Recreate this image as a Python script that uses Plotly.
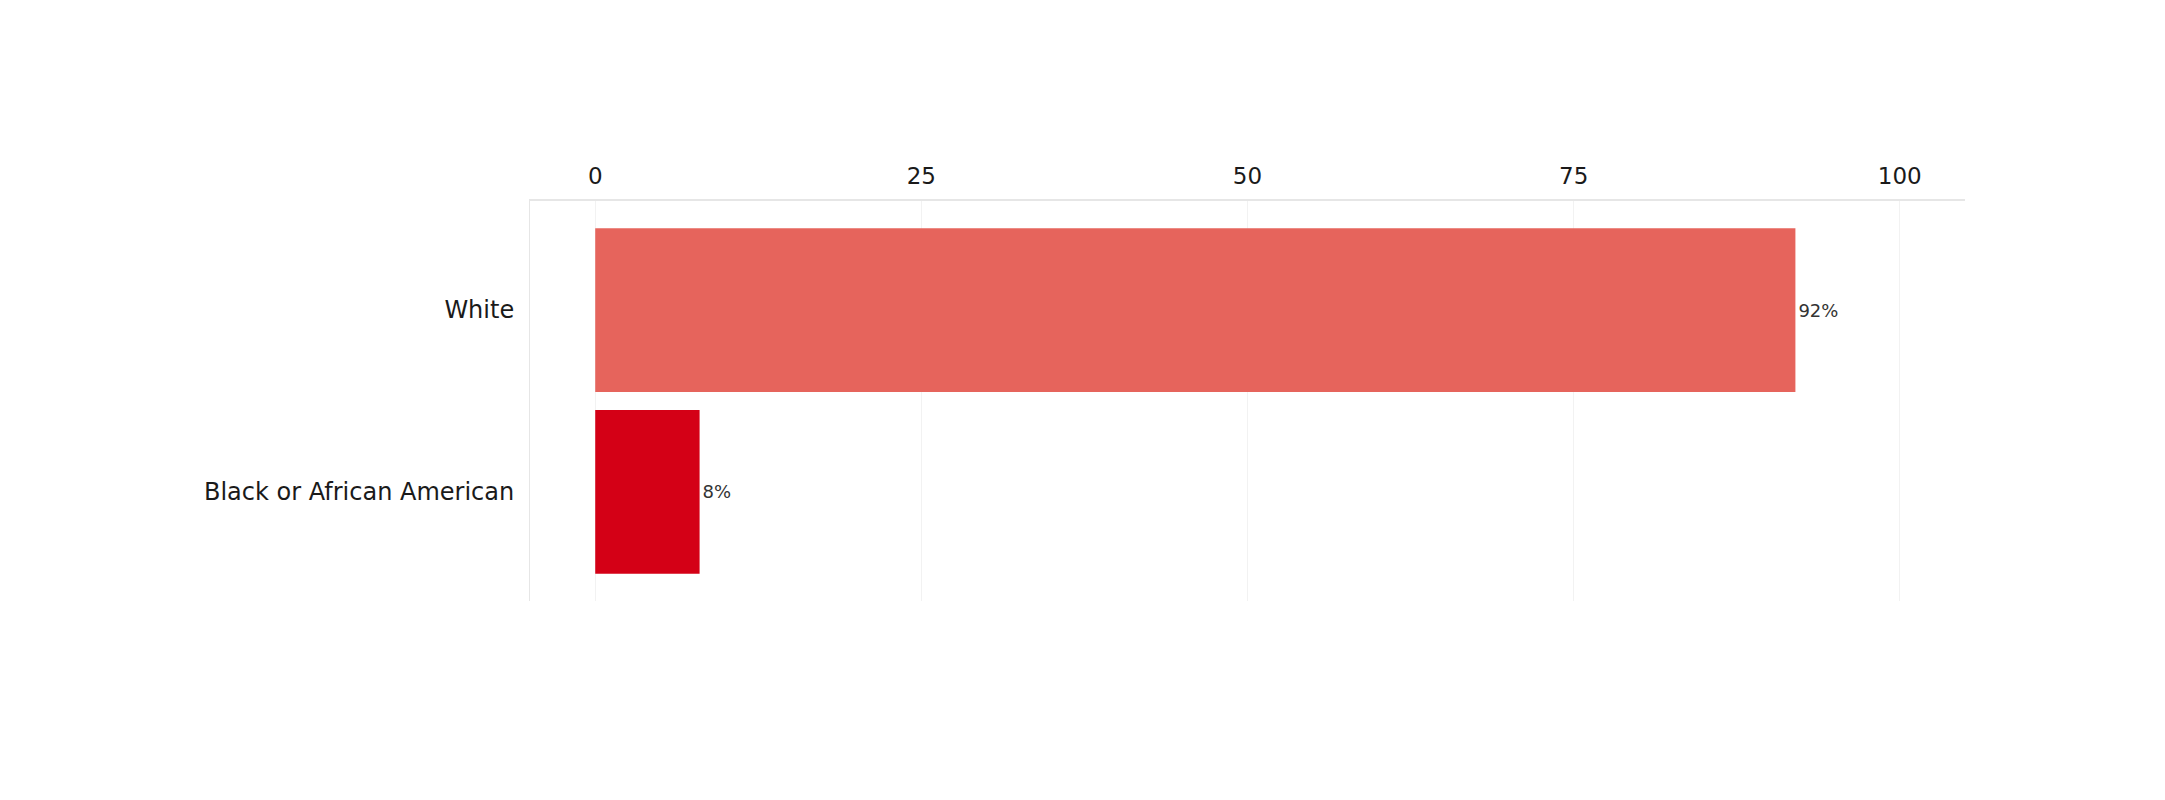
import plotly.graph_objects as go

categories = ["Black or African American", "White"]
values = [8, 92]
labels = ["8%", "92%"]
colors = ["#D40016", "#E6645C"]
x_ticks = [0, 25, 50, 75, 100]

FONT = "DejaVu Sans, Open Sans, sans-serif"

fig = go.Figure(
    go.Bar(
        x=values,
        y=categories,
        orientation="h",
        marker=dict(color=colors, line=dict(width=0)),
        text=labels,
        textposition="outside",
        textfont=dict(family=FONT, size=18, color="#333333"),
        cliponaxis=False,
        width=0.9,
    )
)

fig.update_layout(
    width=2165,
    height=800,
    paper_bgcolor="white",
    plot_bgcolor="white",
    showlegend=False,
    margin=dict(l=522, r=208, t=193, b=207, autoexpand=False),
    font=dict(family=FONT, color="#1a1a1a"),
    xaxis=dict(
        side="top",
        range=[-5, 105],
        tickvals=x_ticks,
        ticktext=[str(t) for t in x_ticks],
        tickfont=dict(size=23, color="#1a1a1a"),
        showgrid=True,
        gridcolor="#f2f2f2",
        gridwidth=1,
        zeroline=False,
        showline=True,
        linecolor="#e6e6e6",
        linewidth=2,
        ticks="",
        ticklabelstandoff=6,
    ),
    yaxis=dict(
        range=[-0.6, 1.6],
        tickfont=dict(size=24, color="#1a1a1a"),
        showgrid=False,
        zeroline=False,
        showline=True,
        linecolor="#e6e6e6",
        linewidth=1,
        ticks="",
        ticklabelstandoff=10,
    ),
)

fig.write_html("out.html")
